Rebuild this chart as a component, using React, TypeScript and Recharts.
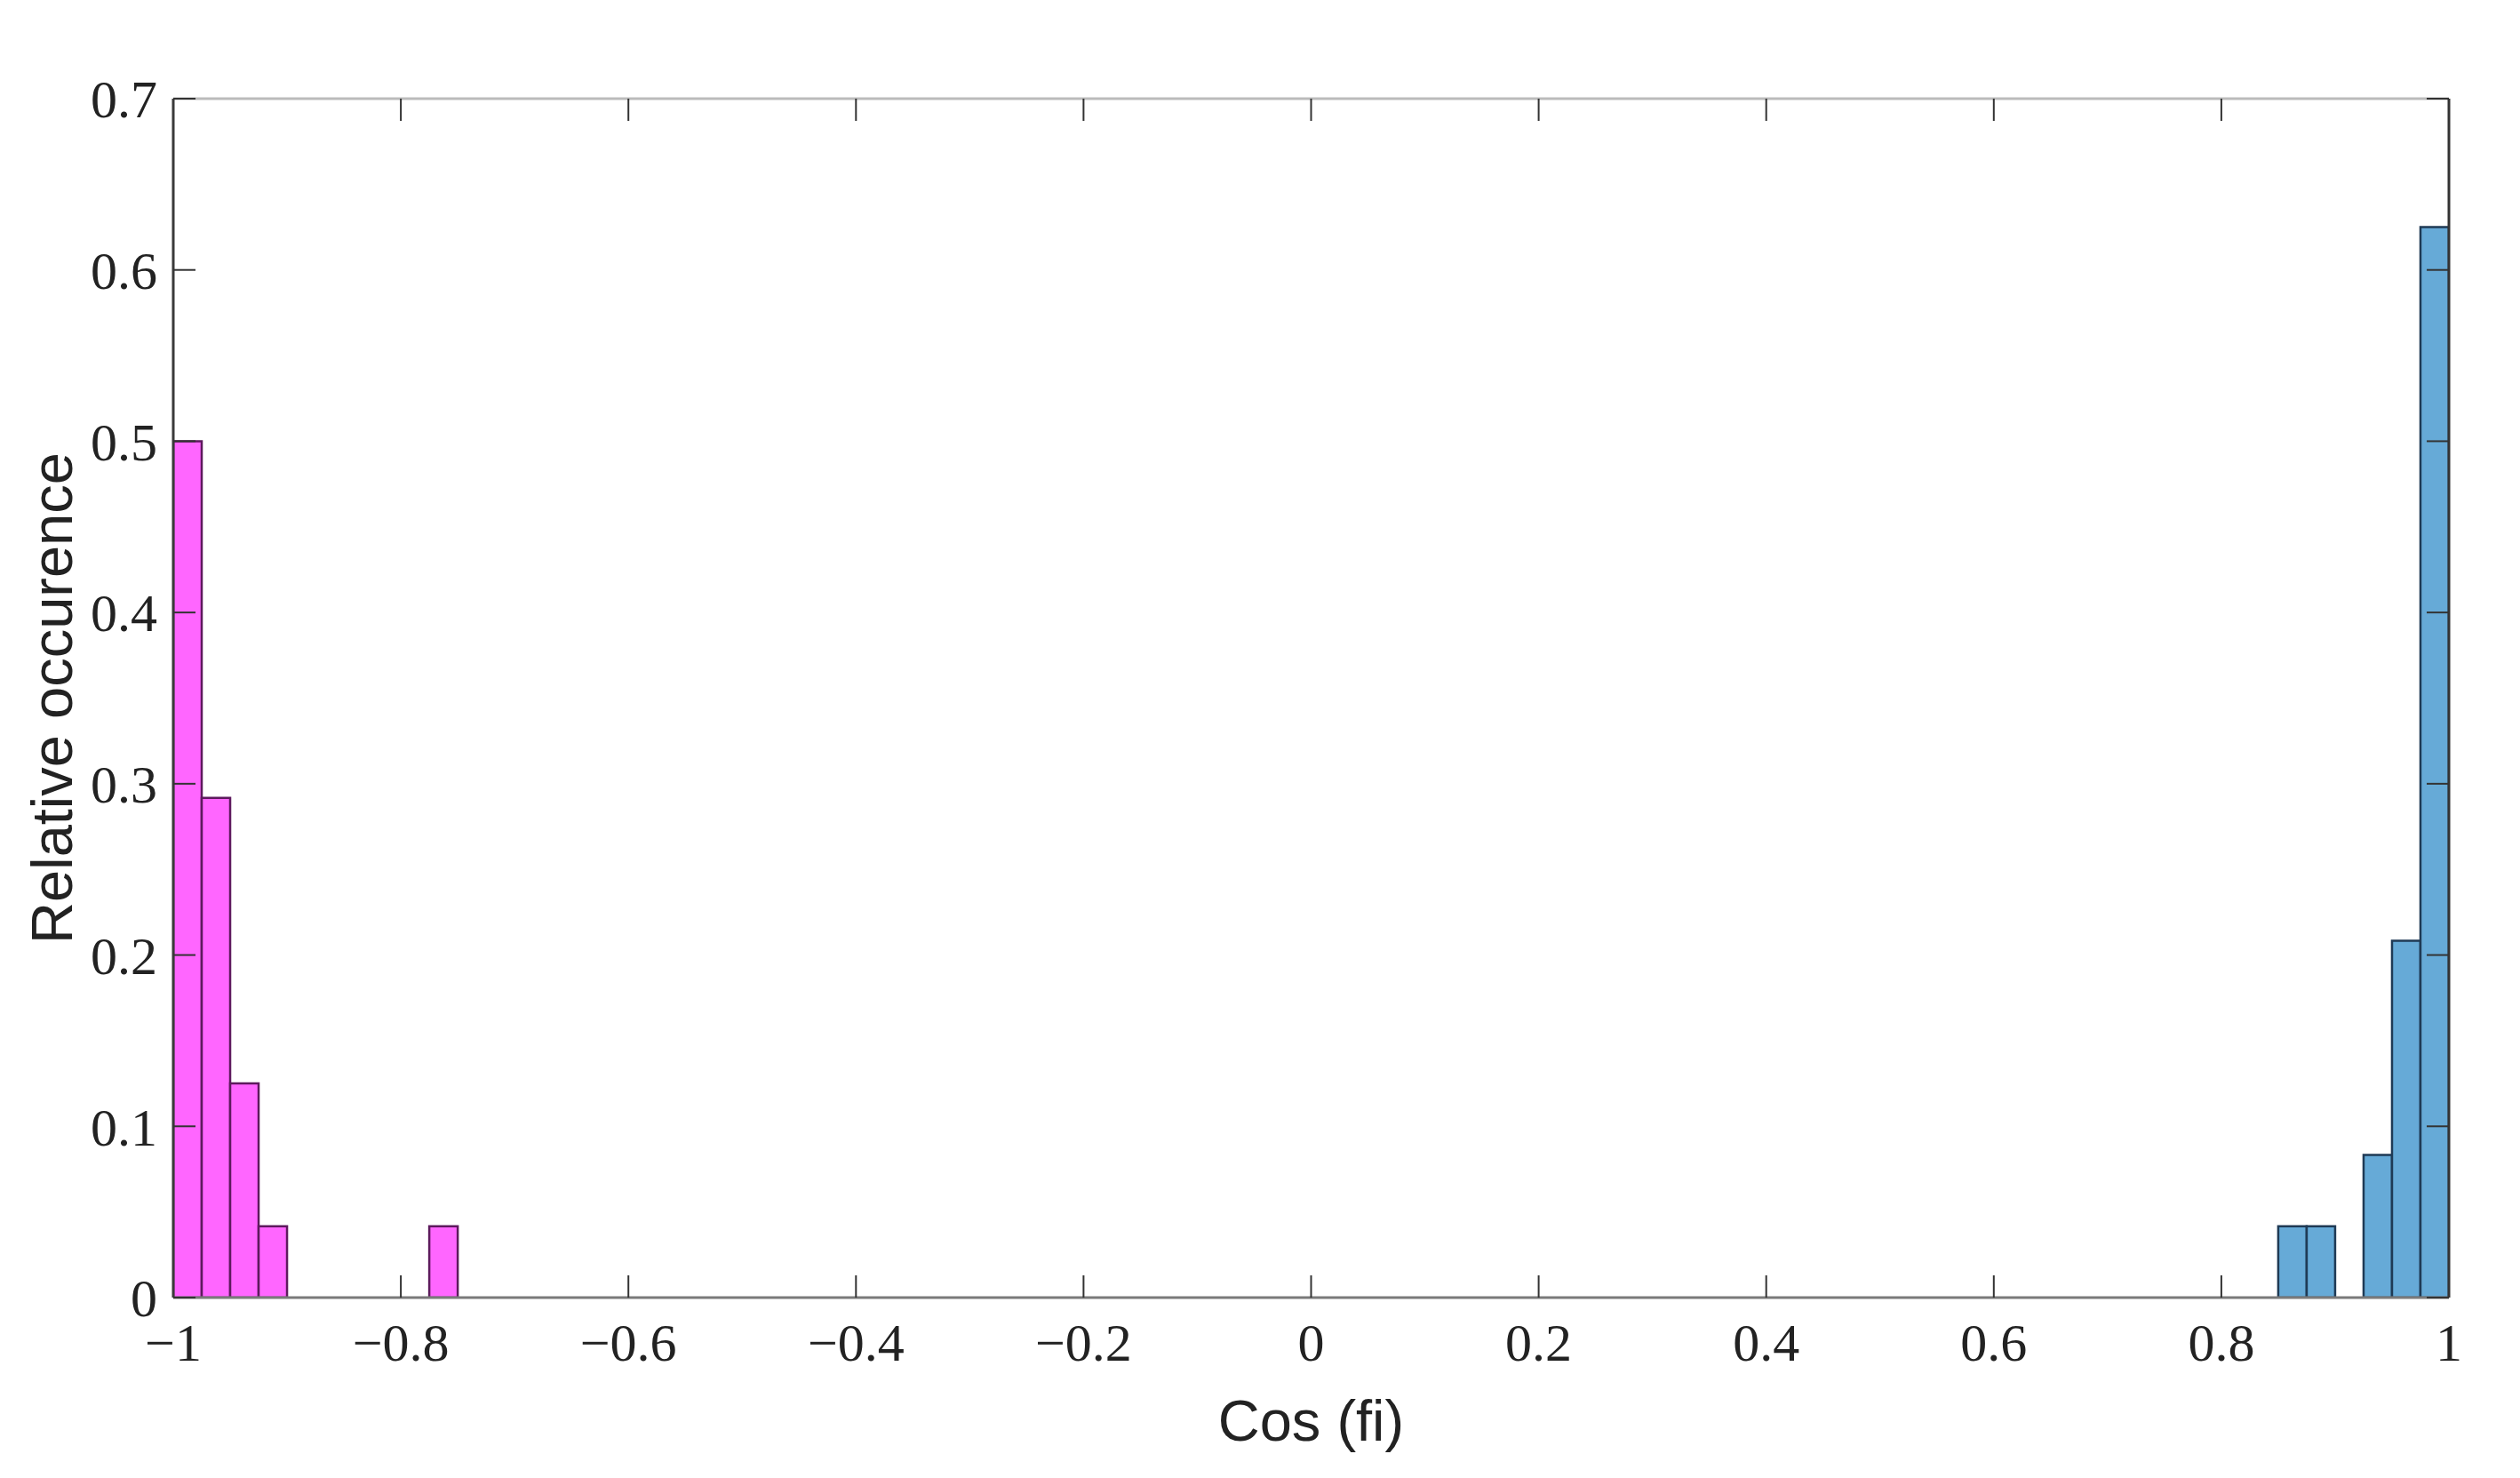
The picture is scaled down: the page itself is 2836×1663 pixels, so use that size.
import { ComposedChart, Bar, XAxis, YAxis, Label } from "recharts";

// histogram bin centres (bin width 0.025) and relative occurrence
const negBins = [-0.9875, -0.9625, -0.9375, -0.9125, -0.7625];
const negValues = [0.5, 0.2917, 0.125, 0.0417, 0.0417];
const posBins = [0.8625, 0.8875, 0.9375, 0.9625, 0.9875];
const posValues = [0.0417, 0.0417, 0.0833, 0.2083, 0.625];

const xTicks = [-1, -0.8, -0.6, -0.4, -0.2, 0, 0.2, 0.4, 0.6, 0.8, 1];
const yTicks = [0, 0.1, 0.2, 0.3, 0.4, 0.5, 0.6, 0.7];

const data = [
  ...negBins.map((x, i) => ({ x, neg: negValues[i], pos: 0 })),
  ...posBins.map((x, i) => ({ x, neg: 0, pos: posValues[i] })),
];

const fmt = (v: number) => (v < 0 ? `\u2212${Math.abs(v)}` : `${v}`);
const blank = () => "";
const tickFont = { fontFamily: "'Liberation Serif', serif", fontSize: 60, fill: "#222" };
const inTick = { stroke: "#333", strokeWidth: 2 };
const labelFont = { fontFamily: "'Liberation Sans', Arial, sans-serif", fontSize: 65, fill: "#222" };

export default function App() {
  return (
    <div style={{ position: "absolute", left: 0, top: 0, background: "#fff" }}>
      <ComposedChart
        width={2836}
        height={1663}
        data={data}
        margin={{ top: 111, right: 80, left: 45, bottom: 83 }}
        barCategoryGap={0}
        barGap={0}
      >
        <Bar dataKey="neg" stackId="h" fill="#ff66ff" stroke="#5e1a5e" strokeWidth={2.5} isAnimationActive={false} />
        <Bar dataKey="pos" stackId="h" fill="#66aad7" stroke="#1f3a55" strokeWidth={2.5} isAnimationActive={false} />

        <XAxis
          dataKey="x"
          type="number"
          domain={[-1, 1]}
          ticks={xTicks}
          tickFormatter={fmt}
          tickLine={false}
          tickSize={0}
          tickMargin={28}
          height={120}
          axisLine={{ stroke: "#7a7a7a", strokeWidth: 3 }}
          tick={tickFont}
          allowDataOverflow
        >
          <Label value="Cos (fi)" position="insideBottom" offset={-41} style={labelFont} />
        </XAxis>
        <XAxis xAxisId="bin" dataKey="x" type="number" domain={[-1, 1]} ticks={xTicks} mirror tickFormatter={blank} tickSize={25} axisLine={false} tickLine={inTick} height={1} allowDataOverflow />
        <XAxis xAxisId="top" orientation="top" dataKey="x" type="number" domain={[-1, 1]} ticks={xTicks} mirror tickFormatter={blank} tickSize={25} axisLine={{ stroke: "#bbbbbb", strokeWidth: 3 }} tickLine={inTick} height={1} allowDataOverflow />

        <YAxis
          type="number"
          domain={[0, 0.7]}
          ticks={yTicks}
          tickLine={false}
          tickSize={0}
          tickMargin={18}
          width={150}
          axisLine={{ stroke: "#3a3a3a", strokeWidth: 3 }}
          tick={tickFont}
          allowDataOverflow
        >
          <Label
            value="Relative occurence"
            angle={-90}
            position="insideLeft"
            offset={13}
            style={{ ...labelFont, textAnchor: "middle" }}
          />
        </YAxis>
        <YAxis yAxisId="lin" type="number" domain={[0, 0.7]} ticks={yTicks} mirror tickFormatter={blank} tickSize={25} axisLine={false} tickLine={inTick} width={1} allowDataOverflow />
        <YAxis yAxisId="rin" orientation="right" type="number" domain={[0, 0.7]} ticks={yTicks} mirror tickFormatter={blank} tickSize={25} axisLine={{ stroke: "#333", strokeWidth: 3 }} tickLine={inTick} width={1} allowDataOverflow />
      </ComposedChart>
    </div>
  );
}
